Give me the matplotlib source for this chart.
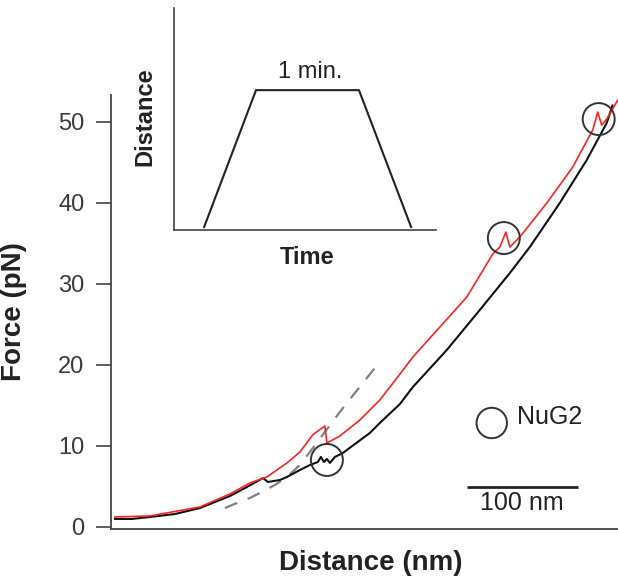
import matplotlib
matplotlib.use("Agg")
import matplotlib.pyplot as plt

plt.rcParams['font.family'] = ['Liberation Sans', 'DejaVu Sans']

# ---- data (distance in nm, force in pN) ----
black_x = [3.6, 18.9, 35.1, 57.7, 80.2, 107.2, 122.5, 137.0, 141.4, 152.3, 158.6, 170.3, 179.3,
           186.5, 189.2, 191.9, 194.6, 197.3, 201.8, 209.0, 233.3, 242.3, 260.4, 272.1,
           302.7, 332.4, 359.5, 377.5, 404.5, 428.8, 446.8, 452.0]
black_y = [0.99, 0.99, 1.23, 1.60, 2.34, 3.82, 4.93, 6.04, 5.55, 5.80, 6.17, 7.03, 7.65,
           8.02, 8.64, 8.02, 8.39, 7.90, 8.64, 9.13, 11.60, 12.83, 15.17, 17.27,
           21.84, 26.77, 31.33, 34.54, 39.97, 45.27, 49.84, 52.0]

red_x = [3.6, 35.1, 80.2, 107.2, 125.2, 140.5, 158.6, 170.3, 182.0, 192.8, 194.6, 206.3,
         224.3, 242.3, 257.7, 272.1, 296.4, 320.7, 344.1, 350.5, 355.9, 359.5, 368.5,
         392.8, 416.2, 434.2, 438.7, 442.3, 446.8, 456.8]
red_y = [1.23, 1.36, 2.47, 4.07, 5.43, 6.17, 7.90, 9.25, 11.40, 12.46, 10.36, 11.23,
         13.20, 15.67, 18.38, 20.97, 24.67, 28.37, 33.68, 34.54, 36.39, 34.54, 35.78,
         39.97, 44.41, 48.98, 51.20, 49.59, 50.33, 52.68]

fit_x = [102.7, 113.5, 125.2, 136.0, 147.7, 158.6, 170.3, 182.0, 192.8, 206.3, 219.8, 237.8]
fit_y = [2.34, 2.96, 3.58, 4.32, 5.18, 6.17, 7.65, 9.75, 11.72, 14.19, 16.53, 19.62]

unfold_x = [194.6, 354.1, 439.6]
unfold_y = [8.27, 35.65, 50.33]

yticks = [0, 10, 20, 30, 40, 50]

inset_t = [0.115, 0.313, 0.706, 0.905]
inset_d = [0.0135, 0.63, 0.63, 0.0135]

W, H = 618, 585
fig = plt.figure(figsize=(W / 100, H / 100), dpi=100)

# main axes: left 111px, right 618px, top 95px, bottom 529px
ax = fig.add_axes([111 / W, 1 - 529 / H, (618 - 111) / W, (529 - 95) / H])
ax.set_xlim(0, 457)
ax.set_ylim(-0.25, 53.3)

ax.plot(fit_x, fit_y, color='#808080', lw=1.6, dashes=(6, 5), zorder=1)
ax.plot(black_x, black_y, color='#111111', lw=1.5, zorder=2)
ax.plot(red_x, red_y, color='#ff2222', lw=1.2, zorder=3)
ax.scatter(unfold_x, unfold_y, s=530, facecolors='none', edgecolors='#333333',
           linewidths=1.4, zorder=4)

# legend-like marker
ax.scatter([343.2], [12.83], s=480, facecolors='none', edgecolors='#333333',
           linewidths=1.4, clip_on=False)
ax.text(366.0, 13.6, 'NuG2', fontsize=18, color='#222222', va='center', ha='left')

# scale bar 100 nm
ax.plot([320.7, 420.7], [4.93, 4.93], color='#222222', lw=2.0, solid_capstyle='butt')
ax.text(370.7, 3.0, '100 nm', fontsize=18, color='#222222', ha='center', va='center')

for s in ['top', 'right']:
    ax.spines[s].set_visible(False)
for s in ['left', 'bottom']:
    ax.spines[s].set_color('#444444')
    ax.spines[s].set_linewidth(1.3)
ax.set_xticks([])
ax.set_yticks(yticks)
ax.tick_params(axis='y', length=11, width=1.2, color='#444444', labelsize=17,
               labelcolor='#3a3a3a', pad=8)
ax.set_ylabel('Force (pN)', fontsize=20, fontweight='bold', color='#222222')
ax.yaxis.set_label_coords(-0.166, 0.5)
fig.text(371 / W, 1 - 563 / H, 'Distance (nm)', fontsize=20, fontweight='bold',
         color='#222222', ha='center', va='center')

# inset axes: left 174px, right 436px, top 8px, bottom 230px
ins = fig.add_axes([174 / W, 1 - 230 / H, (436 - 174) / W, (230 - 8) / H])
ins.patch.set_alpha(0)
ins.set_xlim(0, 1)
ins.set_ylim(0, 1)
ins.plot(inset_t, inset_d, color='#222222', lw=1.5)
ins.text(0.52, 0.71, '1 min.', fontsize=17, color='#222222', ha='center', va='center')
for s in ['top', 'right']:
    ins.spines[s].set_visible(False)
for s in ['left', 'bottom']:
    ins.spines[s].set_color('#444444')
    ins.spines[s].set_linewidth(1.2)
ins.set_xticks([])
ins.set_yticks([])
fig.text(307 / W, 1 - 258 / H, 'Time', fontsize=17, fontweight='bold', color='#222222',
         ha='center', va='center')
fig.text(145 / W, 1 - 117 / H, 'Distance', fontsize=17, fontweight='bold', color='#222222',
         ha='center', va='center', rotation=90)

fig.savefig('out.png', dpi=100)
